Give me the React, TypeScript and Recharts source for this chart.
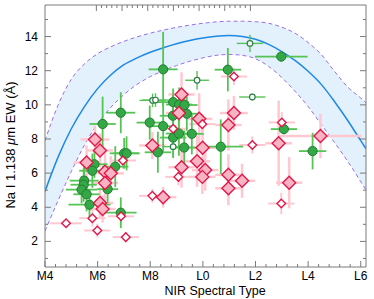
import React from 'react';
import { ComposedChart, XAxis, YAxis, Scatter, ErrorBar, Line, Area } from 'recharts';

const FRAME = '#7a7a7a';
const FONT = '"Liberation Sans", Arial, Helvetica, sans-serif';

// spectral type index: M4 = 4 ... M9 = 9, L0 = 10 ... L6 = 16
const X_MAJOR = [4, 6, 8, 10, 12, 14, 16];
const X_LABELS = ['M4', 'M6', 'M8', 'L0', 'L2', 'L4', 'L6'];
const Y_MAJOR = [2, 4, 6, 8, 10, 12, 14];
const Y_MINOR = [1, 3, 5, 7, 9, 11, 13, 15];

// fitted relation and its envelope
const FIT_X = [4, 4.5, 5, 5.5, 6, 6.5, 7, 7.5, 8, 8.5, 9, 9.5, 10, 10.5, 11, 11.5, 12, 12.5, 13, 13.5, 14, 14.5, 15, 15.5, 16, 16.2];
const FIT_MID = [4.93, 6.95, 8.6, 9.9, 10.95, 11.75, 12.35, 12.75, 13.08, 13.35, 13.58, 13.77, 13.92, 14.02, 14.06, 14.0, 13.84, 13.54, 13.12, 12.6, 11.97, 11.2, 10.2, 9.1, 7.9, 7.43];
const FIT_HI = [7.9, 10.0, 11.5, 12.4, 13.0, 13.4, 13.72, 13.98, 14.2, 14.38, 14.54, 14.67, 14.78, 14.86, 14.9, 14.9, 14.87, 14.78, 14.55, 14.2, 13.65, 12.95, 11.97, 11.05, 10.4, 10.12];
const FIT_LO = [2.6, 4.4, 6.1, 7.65, 8.9, 9.85, 10.6, 11.2, 11.65, 12.0, 12.3, 12.55, 12.75, 12.9, 12.95, 12.9, 12.7, 12.25, 11.6, 10.8, 9.9, 8.85, 7.8, 6.7, 5.5, 5.0];

// [spectral type, EW, type error, EW error]
const GREEN_FILLED = [
  [8.49, 12.08, 0.55, 2.2], [10.95, 12.06, 0.5, 1.27], [12.98, 12.83, 1.0, 0.3],
  [6.88, 9.54, 0.55, 1.2], [6.19, 8.88, 0.5, 1.6], [7.98, 8.96, 0.5, 1.0],
  [8.49, 8.75, 0.5, 1.5], [8.87, 10.16, 0.6, 0.8], [9.1, 10.02, 0.5, 1.0],
  [9.3, 9.99, 0.5, 0.7], [8.86, 9.36, 0.5, 1.2], [9.39, 9.48, 0.5, 1.0],
  [8.87, 8.08, 0.5, 1.2], [9.09, 8.32, 0.5, 1.3], [9.58, 8.3, 0.45, 1.2],
  [9.29, 7.5, 0.5, 1.0], [10.68, 7.55, 0.85, 1.6], [13.08, 8.58, 0.5, 0.3],
  [14.17, 7.29, 0.52, 1.07], [8.29, 7.22, 0.5, 1.2], [7.01, 7.16, 0.55, 0.9],
  [7.1, 7.16, 0.5, 1.0], [5.88, 6.52, 0.5, 0.8], [5.8, 6.14, 0.5, 1.0],
  [6.67, 6.38, 0.5, 1.2], [5.49, 5.56, 0.55, 0.9], [5.47, 5.32, 0.5, 1.0],
  [5.39, 5.03, 0.6, 0.8], [5.58, 4.76, 0.5, 1.0], [6.38, 5.06, 0.4, 0.8],
  [5.69, 4.15, 0.8, 0.9], [6.88, 3.68, 0.6, 0.9],
];

const GREEN_OPEN = [
  [11.79, 13.6, 0.5, 0.5], [9.78, 11.44, 0.45, 0.55], [11.88, 10.46, 0.5, 0.2],
  [8.09, 10.26, 0.5, 0.4], [8.2, 10.28, 0.5, 0.4], [8.87, 7.55, 0.4, 0.6],
];

const PINK_FILLED = [
  [5.9, 7.97, 0.55, 0.8], [6.09, 7.33, 0.5, 1.0], [5.58, 6.62, 0.5, 1.0],
  [6.28, 6.08, 0.5, 1.2], [6.5, 5.99, 0.5, 1.0], [6.28, 5.42, 0.5, 1.2],
  [6.09, 4.25, 0.5, 0.9], [6.19, 3.9, 0.5, 0.8], [8.49, 4.59, 0.5, 0.6],
  [9.19, 6.35, 0.5, 1.2], [8.08, 7.62, 0.5, 0.8], [9.09, 9.52, 0.5, 1.0],
  [9.19, 10.61, 0.5, 1.3], [9.86, 9.18, 0.5, 1.5], [9.78, 6.69, 0.5, 1.5],
  [10.09, 6.18, 0.5, 1.2], [9.98, 5.78, 0.5, 1.0], [9.99, 7.49, 0.5, 1.3],
  [10.97, 8.82, 0.5, 1.5], [11.18, 9.52, 0.53, 1.0], [10.97, 5.9, 0.5, 1.2],
  [11.49, 5.55, 0.5, 1.0], [10.97, 5.11, 0.5, 1.0], [12.88, 7.75, 0.5, 2.5],
  [14.47, 8.17, 1.55, 1.3], [13.28, 5.44, 0.5, 1.5],
];

const RED_OPEN = [
  [4.8, 3.06, 0.6, 0.2], [5.8, 3.36, 0.5, 0.5], [5.99, 2.64, 0.5, 0.4],
  [7.07, 2.25, 0.5, 0.3], [6.89, 3.47, 0.5, 0.5], [6.96, 6.74, 0.5, 0.5],
  [8.08, 4.67, 0.5, 0.4], [9.07, 5.78, 0.5, 0.5], [8.87, 8.6, 0.5, 0.7],
  [9.98, 8.87, 0.5, 0.6], [11.18, 11.66, 0.5, 0.5], [11.88, 7.65, 0.5, 0.5],
  [13.0, 8.97, 0.5, 0.6], [12.98, 4.22, 0.5, 0.63],
];

const toPoints = (rows: number[][]) => rows.map(([x, y, dx, dy]) => ({ x, y, dx, dy }));

const curve = FIT_X.map((x, i) => ({ x, mid: FIT_MID[i], hi: FIT_HI[i], lo: FIT_LO[i], band: [FIT_LO[i], FIT_HI[i]] }));

const X_TICKS = X_MAJOR.flatMap((m, i) =>
  i < X_MAJOR.length - 1 ? [0, 1, 2, 3, 4].map((k) => +(m + k * 0.4).toFixed(2)) : [m],
);
const Y_TICKS = [...Y_MAJOR, ...Y_MINOR].sort((a, b) => a - b);

const near = (a: number, b: number) => Math.abs(a - b) < 1e-6;
const xMajorIndex = (v: number) => X_MAJOR.findIndex((m) => near(m, v));
const isYMajor = (v: number) => Y_MAJOR.some((m) => near(m, v));

const BottomTick = (p: any) => {
  const i = xMajorIndex(p.payload.value);
  return (
    <g>
      <line x1={p.x} x2={p.x} y1={p.y} y2={p.y - (i >= 0 ? 6 : 3)} stroke={FRAME} />
      {i >= 0 && (
        <text x={p.x} y={p.y + 13} textAnchor="middle" fontSize={12} fontFamily={FONT} fill="#000">
          {X_LABELS[i]}
        </text>
      )}
    </g>
  );
};

const TopTick = (p: any) => {
  const major = xMajorIndex(p.payload.value) >= 0;
  return <line x1={p.x} x2={p.x} y1={p.y} y2={p.y + (major ? 6 : 3)} stroke={FRAME} />;
};

const LeftTick = (p: any) => {
  const major = isYMajor(p.payload.value);
  return (
    <g>
      <line x1={p.x} x2={p.x + (major ? 6 : 3)} y1={p.y} y2={p.y} stroke={FRAME} />
      {major && (
        <text x={p.x - 7} y={p.y + 4} textAnchor="end" fontSize={12} fontFamily={FONT} fill="#000">
          {p.payload.value}
        </text>
      )}
    </g>
  );
};

const RightTick = (p: any) => {
  const major = isYMajor(p.payload.value);
  return <line x1={p.x} x2={p.x - (major ? 6 : 3)} y1={p.y} y2={p.y} stroke={FRAME} />;
};

const XTitle = () => (
  <text x={215} y={295} textAnchor="middle" fontSize={12.5} fontFamily={FONT} fill="#000">
    NIR Spectral Type
  </text>
);

const YTitle = () => (
  <text transform="translate(15,145) rotate(-90)" textAnchor="middle" fontSize={13} fontFamily={FONT} fill="#000">
    Na I 1.138 <tspan fontStyle="italic">μ</tspan>m EW (Å)
  </text>
);

const diamond = (cx: number, cy: number, r: number) => `M${cx},${cy - r}L${cx + r},${cy}L${cx},${cy + r}L${cx - r},${cy}Z`;

const NoMark = () => <g />;
const GreenDot = (p: any) => <circle cx={p.cx} cy={p.cy} r={4.6} fill="#34a846" stroke="#1f7d30" strokeWidth={1} />;
const GreenRing = (p: any) => <circle cx={p.cx} cy={p.cy} r={2.8} fill="#fff" stroke="#2e7f45" strokeWidth={1.2} />;
const PinkDiamond = (p: any) => <path d={diamond(p.cx, p.cy, 6.5)} fill="#f8b4c3" stroke="#e3174a" strokeWidth={1.4} />;
const RedDiamond = (p: any) => <path d={diamond(p.cx, p.cy, 4.3)} fill="#fff" stroke="#e3174a" strokeWidth={1.4} />;

const PINK_BAR = '#ffc8d1';
const GREEN_BAR = '#55c455';

export default function App() {
  const green = toPoints(GREEN_FILLED);
  const greenOpen = toPoints(GREEN_OPEN);
  const pink = toPoints(PINK_FILLED);
  const red = toPoints(RED_OPEN);

  return (
    <div style={{ position: 'absolute', left: 0, top: 0, background: '#fff' }}>
      <ComposedChart width={374} height={299} data={curve} margin={{ top: 0, right: 0, bottom: 0, left: 0 }}>
        <XAxis
          dataKey="x"
          type="number"
          domain={[4, 16.2]}
          allowDataOverflow
          ticks={X_TICKS}
          interval={0}
          tick={BottomTick}
          tickLine={false}
          tickSize={0}
          tickMargin={0}
          axisLine={{ stroke: FRAME }}
          height={32}
          label={<XTitle />}
        />
        <XAxis
          xAxisId="top"
          orientation="top"
          type="number"
          domain={[4, 16.2]}
          allowDataOverflow
          ticks={X_TICKS}
          interval={0}
          tick={TopTick}
          tickLine={false}
          tickSize={0}
          tickMargin={0}
          axisLine={{ stroke: FRAME }}
          height={5}
        />
        <YAxis
          dataKey="y"
          type="number"
          domain={[0.5, 15.85]}
          allowDataOverflow
          ticks={Y_TICKS}
          interval={0}
          tick={LeftTick}
          tickLine={false}
          tickSize={0}
          tickMargin={0}
          axisLine={{ stroke: FRAME }}
          width={45}
          label={<YTitle />}
        />
        <YAxis
          yAxisId="right"
          orientation="right"
          type="number"
          domain={[0.5, 15.85]}
          allowDataOverflow
          ticks={Y_TICKS}
          interval={0}
          tick={RightTick}
          tickLine={false}
          tickSize={0}
          tickMargin={0}
          axisLine={{ stroke: FRAME }}
          width={8}
        />

        <Area dataKey="band" type="monotone" stroke="none" fill="#e2f1fc" fillOpacity={1} isAnimationActive={false} activeDot={false} />
        <Line dataKey="hi" type="monotone" stroke="#9a6fe2" strokeWidth={1} strokeDasharray="4 3" dot={false} activeDot={false} isAnimationActive={false} />
        <Line dataKey="lo" type="monotone" stroke="#9a6fe2" strokeWidth={1} strokeDasharray="4 3" dot={false} activeDot={false} isAnimationActive={false} />
        <Line dataKey="mid" type="monotone" stroke="#1e88e5" strokeWidth={1.5} dot={false} activeDot={false} isAnimationActive={false} />

        <Scatter data={pink} shape={NoMark} isAnimationActive={false}>
          <ErrorBar dataKey="dx" direction="x" width={0} stroke={PINK_BAR} strokeWidth={2.5} />
          <ErrorBar dataKey="dy" direction="y" width={0} stroke={PINK_BAR} strokeWidth={2.5} />
        </Scatter>
        <Scatter data={red} shape={NoMark} isAnimationActive={false}>
          <ErrorBar dataKey="dx" direction="x" width={0} stroke={PINK_BAR} strokeWidth={2} />
          <ErrorBar dataKey="dy" direction="y" width={0} stroke={PINK_BAR} strokeWidth={2} />
        </Scatter>
        <Scatter data={green} shape={NoMark} isAnimationActive={false}>
          <ErrorBar dataKey="dx" direction="x" width={0} stroke={GREEN_BAR} strokeWidth={1.8} />
          <ErrorBar dataKey="dy" direction="y" width={0} stroke={GREEN_BAR} strokeWidth={1.8} />
        </Scatter>
        <Scatter data={greenOpen} shape={NoMark} isAnimationActive={false}>
          <ErrorBar dataKey="dx" direction="x" width={0} stroke={GREEN_BAR} strokeWidth={1.4} />
          <ErrorBar dataKey="dy" direction="y" width={0} stroke={GREEN_BAR} strokeWidth={1.4} />
        </Scatter>

        <Scatter data={green} shape={GreenDot} isAnimationActive={false} />
        <Scatter data={greenOpen} shape={GreenRing} isAnimationActive={false} />
        <Scatter data={pink} shape={PinkDiamond} isAnimationActive={false} />
        <Scatter data={red} shape={RedDiamond} isAnimationActive={false} />
      </ComposedChart>
    </div>
  );
}
